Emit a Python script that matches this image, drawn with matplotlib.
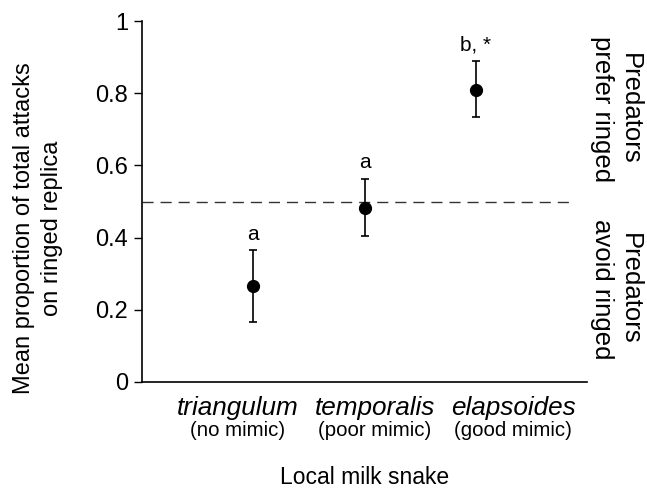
import matplotlib
matplotlib.use("Agg")
import matplotlib.pyplot as plt

plt.rcParams['font.family'] = ['Liberation Sans', 'DejaVu Sans']

# data
snakes = ["triangulum", "temporalis", "elapsoides"]
mimicry = ["(no mimic)", "(poor mimic)", "(good mimic)"]
means = [0.265, 0.482, 0.810]
lower = [0.165, 0.405, 0.733]
upper = [0.365, 0.563, 0.888]
letters = ["a", "a", "b, *"]
yticks = [0, 0.2, 0.4, 0.6, 0.8, 1]
ytick_labels = ["0", "0.2", "0.4", "0.6", "0.8", "1"]

W, H = 647, 493
fig = plt.figure(figsize=(W / 100, H / 100), dpi=100)
ax = fig.add_axes([142 / W, 1 - 382 / H, 445 / W, 361 / H])

xpos = [1, 2, 3]
err = [[m - l for m, l in zip(means, lower)], [u - m for m, u in zip(means, upper)]]
ax.errorbar(xpos, means, yerr=err, fmt='o', color='black', markersize=8.5,
            elinewidth=1.2, capsize=3, capthick=1.2, clip_on=False)
ax.axhline(0.5, color='#333333', lw=1, ls=(0, (8, 5)), xmax=0.97)

for x, u, lab in zip(xpos, upper, letters):
    ax.text(x, u + 0.018, lab, ha='center', va='bottom', fontsize=15)

ax.set_xlim(0, 4)
ax.set_ylim(0, 1)
ax.set_yticks(yticks)
ax.set_yticklabels(ytick_labels, fontsize=17)
ax.tick_params(axis='y', direction='out', length=6, width=1, pad=4)
ax.set_xticks([])
for s in ['top', 'right']:
    ax.spines[s].set_visible(False)
ax.spines['left'].set_linewidth(1.2)
ax.spines['bottom'].set_linewidth(1.2)

# category labels sit on their own spacing, not under the points
label_px = [238, 375, 513]
for px, name, mim in zip(label_px, snakes, mimicry):
    fig.text(px / W, 1 - 408 / H, name, ha='center', va='center',
             fontsize=18.8, style='italic')
    fig.text(px / W, 1 - 431 / H, mim, ha='center', va='center',
             fontsize=14.7)

fig.text((142 + 587) / 2 / W, 1 - 477 / H, "Local milk snake",
         ha='center', va='center', fontsize=16.5)
fig.text(38 / W, 1 - 228 / H, "Mean proportion of total attacks\non ringed replica",
         rotation=90, ha='center', va='center', fontsize=17, linespacing=1.3)

fig.text(616 / W, 1 - 109 / H, "Predators\nprefer ringed", rotation=-90,
         ha='center', va='center', fontsize=18.5, linespacing=1.2)
fig.text(616 / W, 1 - 289 / H, "Predators\navoid ringed", rotation=-90,
         ha='center', va='center', fontsize=18.5, linespacing=1.2)

fig.savefig("out.png", dpi=100)
